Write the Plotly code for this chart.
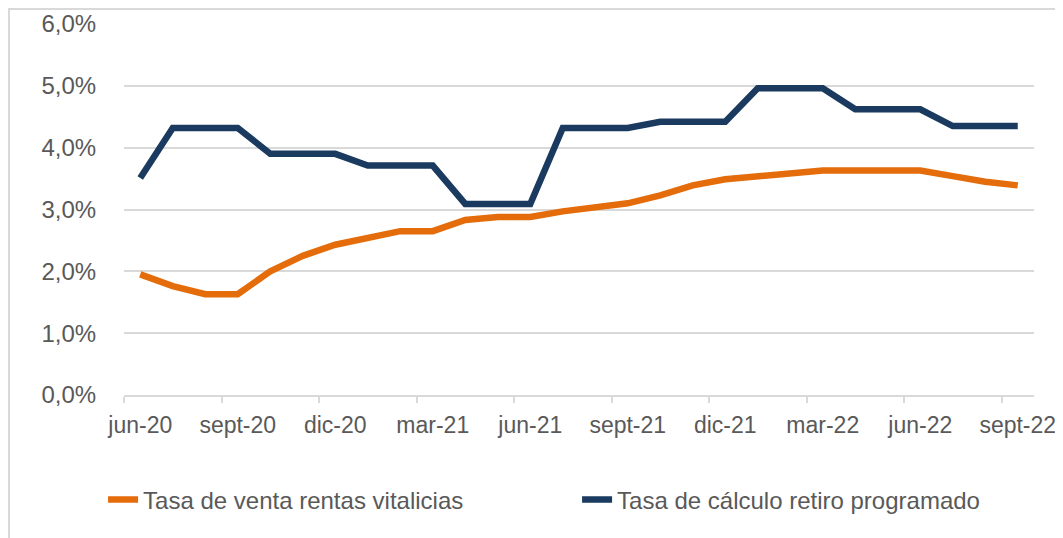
import plotly.graph_objects as go

# Data
months = ["jun-20", "jul-20", "ago-20", "sept-20", "oct-20", "nov-20", "dic-20",
          "ene-21", "feb-21", "mar-21", "abr-21", "may-21", "jun-21", "jul-21",
          "ago-21", "sept-21", "oct-21", "nov-21", "dic-21", "ene-22", "feb-22",
          "mar-22", "abr-22", "may-22", "jun-22", "jul-22", "ago-22", "sept-22"]

tasa_rv = [1.95, 1.76, 1.63, 1.63, 2.00, 2.25, 2.43, 2.54, 2.65, 2.65, 2.83, 2.88,
           2.88, 2.97, 3.04, 3.10, 3.23, 3.39, 3.49, 3.54, 3.59, 3.63, 3.63, 3.63,
           3.63, 3.54, 3.45, 3.39]

tasa_rp = [3.51, 4.32, 4.32, 4.32, 3.90, 3.90, 3.90, 3.71, 3.71, 3.71, 3.09, 3.09,
           3.09, 4.32, 4.32, 4.32, 4.42, 4.42, 4.42, 4.96, 4.96, 4.96, 4.62, 4.62,
           4.62, 4.35, 4.35, 4.35]

names = ["Tasa de venta rentas vitalicias", "Tasa de cálculo retiro programado"]

text_color = '#595959'
grid_color = '#d9d9d9'

fig = go.Figure()

fig.add_trace(go.Scatter(
    x = months, y = tasa_rv, name = names[0], mode = 'lines',
    line = dict(color = '#E46C0A', width = 6.5)
))

fig.add_trace(go.Scatter(
    x = months, y = tasa_rp, name = names[1], mode = 'lines',
    line = dict(color = '#1B3A5F', width = 6.5)
))

# page has an 8px body margin, so the figure is a bit smaller than the window
fig.update_layout(
    width = 1055,
    height = 530,
    margin = dict(l = 116, r = 29, t = 16, b = 143, autoexpand = False),
    paper_bgcolor = 'white',
    plot_bgcolor = 'white',
    separators = ',.',
    font = dict(family = 'Liberation Sans, Arial, sans-serif', size = 24, color = text_color),
    showlegend = True,
    legend = dict(
        orientation = 'h',
        x = -0.023, xanchor = 'left',
        y = -0.283, yanchor = 'middle',
        entrywidth = 429,
        font = dict(size = 24, color = text_color),
    ),
    shapes = [dict(
        type = 'rect', xref = 'paper', yref = 'paper',
        x0 = -0.1264, x1 = 1.05, y0 = -0.45, y1 = 1.0404,
        line = dict(color = grid_color, width = 2),
        layer = 'below'
    )]
)

fig.update_xaxes(
    type = 'category',
    range = [-0.5, 27.5],
    tickmode = 'linear', tick0 = 0, dtick = 3,
    tickson = 'boundaries',
    tickangle = 0,
    automargin = False,
    ticks = 'outside', ticklen = 6, tickcolor = grid_color, tickwidth = 1.5,
    showline = True, linecolor = grid_color, linewidth = 2,
    showgrid = False,
    ticklabelstandoff = 8,
    tickfont = dict(size = 23, color = text_color),
)

fig.update_yaxes(
    range = [0, 6], dtick = 1,
    automargin = False,
    tickformat = '.1f', ticksuffix = '%',
    showgrid = True, gridcolor = grid_color, gridwidth = 2,
    zeroline = False,
    ticks = 'outside', ticklen = 22, tickcolor = 'rgba(0,0,0,0)',
    tickfont = dict(size = 24, color = text_color),
)

fig.write_html("out.html")
